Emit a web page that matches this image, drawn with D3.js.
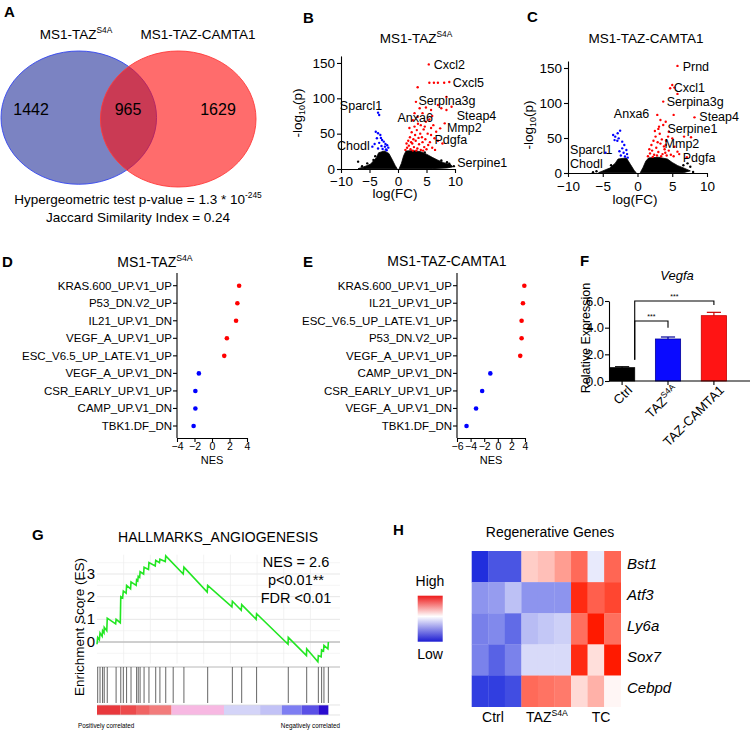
<!DOCTYPE html>
<html>
<head>
<meta charset="utf-8">
<script src="https://cdn.jsdelivr.net/npm/d3@7"></script>
<style>
body { margin:0; background:#fff; }
</style>
</head>
<body>
<script>
// ---------------- data ----------------
// A: venn
const vennNames = ["MS1-TAZ", "MS1-TAZ-CAMTA1"];
const vennCounts = [1442, 965, 1629];

// B: volcano MS1-TAZ S4A  ([logFC, -log10 p])
const volcB_red = [[5.4,148],[5.5,122],[6.3,122],[7.0,122],[8.1,122],[9.0,123],[3.45,115.6],[3.15,95],[8.5,102],[7.6,86],
  [4.9,87],[5.8,83.5],[7.0,90.6],[8.5,83.5],[9.4,88],[8.2,64.6],[7.4,57.5],[6.7,52.8],[6.4,43.4],[5.8,48],
  [2.6,69],[3.45,74],[4.3,79],[4.9,67],[4.0,62],[1.3,27],[1.6,30],[1.9,33],[2.2,28],[2.5,36],[2.8,31],[3.1,40],
  [3.4,29],[3.7,35],[4.0,27],[4.3,38],[4.6,31],[5.0,28],[5.3,34],[1.8,40],[2.1,45],[2.4,52],[2.7,42],[3.0,48],
  [3.3,55],[3.6,44],[3.9,50],[4.2,45],[4.5,56],[4.8,42],[5.2,50],[2.0,58],[2.9,60],[3.5,64],[4.7,60],[5.6,38],
  [6.0,30],[6.5,27],[1.5,36],[2.3,38],[3.2,26],[4.4,26],[2.6,26],[5.8,58],[6.2,62],[7.0,40],[7.8,36],[5.5,70],
  [6.0,75],[3.8,86],[2.9,79]];
const volcB_blue = [[-3.5,79.7],[-3.3,76.4],[-3.9,52.8],[-3.5,50.5],[-3.1,48],[-3.7,43.4],[-2.8,41],[-2.5,38.7],
  [-3.3,37],[-2.2,35.4],[-1.9,33.5],[-2.9,32.5],[-2.3,31.6],[-1.7,30.2],[-3.5,29],[-2.7,28.3],[-2.1,27.8],
  [-4.5,31.6],[-4.1,35.4],[-2.0,26.5],[-3.0,44]];
// outline of the dense black (non significant) cloud
const volcB_blackL = [[-7.0,0.5],[-6.0,3],[-4.8,7],[-3.8,16],[-3.4,23],[-2.4,25.5],[-1.6,22],[-1.0,13],[-0.5,5],[-0.15,0.5]];
const volcB_blackR = [[0.2,0.5],[0.6,8],[1.0,19],[1.4,25.5],[2.6,26],[4.0,24.5],[5.0,21],[6.0,16.5],[7.0,12.5],[8.0,9],[9.3,6],[9.6,3],[8.6,1.5],[6.0,0.5]];
const volcB_blackDots = [[-7.0,10.4],[-5.4,8],[-4.3,12.7],[-6.3,4],[-5.8,2],[9.8,4],[9.0,7.5],[7.6,12],[8.6,9.5],[-4.0,18],[4.7,23.5]];
const volcB_labels = [["Cxcl2",6.25,141.4],["Cxcl5",9.6,115.6],["Sparcl1",-10.2,83.5],["Serpina3g",3.6,90.5],["Anxa6",-0.1,66.9],
  ["Steap4",10.3,69.5],["Mmp2",8.6,52.3],["Pdgfa",6.4,35.4],["Chodl",-10.7,26.9],["Serpine1",10.4,3.3]];

// C: volcano MS1-TAZ-CAMTA1
const volcC_red = [[5.75,153],[5.0,125.7],[4.7,121],[5.3,122],[5.75,113],[3.7,102],[5.2,83],[8.2,79.5],[2.85,83],[3.3,75.7],
  [4.06,73.3],[3.1,66.2],[3.7,68.6],[6.7,52],[7.7,51],[4.5,59],[5.0,49.5],[4.06,40],[5.3,37.6],[5.75,30.5],[7.1,22.4],
  [1.5,24],[1.8,28],[2.1,32],[2.4,26],[2.7,36],[3.0,30],[3.3,42],[3.6,27],[3.9,34],[4.2,25],[1.7,34],[2.0,40],
  [2.3,46],[2.6,52],[2.9,44],[3.2,56],[3.5,48],[3.8,38],[4.1,46],[2.2,23],[2.8,25],[3.4,24],[4.0,29],[4.5,32],
  [4.8,26],[5.2,24],[6.0,27],[2.5,60],[3.0,63],[4.4,52]];
const volcC_blue = [[-2.5,60.5],[-2.85,56.7],[-3.2,51.9],[-3.5,54.3],[-2.7,49.5],[-2.2,44.8],[-1.9,40],[-2.2,35.2],
  [-1.6,32.9],[-2.0,29],[-1.5,27],[-4.6,29],[-2.9,46],[-3.3,47],[-1.8,23.5],[-2.4,25],[-2.6,31],[-1.4,22]];
const volcC_blackL = [[-5.6,0.5],[-5.0,3],[-4.0,7],[-3.2,14],[-2.8,20],[-1.6,21.5],[-1.0,12],[-0.5,4],[-0.2,0.5]];
const volcC_blackR = [[0.4,0.5],[0.8,8],[1.2,17],[1.6,21.5],[3.0,22.5],[4.3,20],[5.0,15],[5.8,10.5],[6.8,6.5],[7.6,3],[6.6,0.5]];
const volcC_blackDots = [[7.2,13.8],[6.6,11],[-5.9,2.5],[-6.4,1],[-3.8,11],[8.0,1.5],[7.6,9]];
const volcC_labels = [["Prnd",6.5,146],["Cxcl1",5.2,116],["Serpina3g",4.2,95.7],["Anxa6",-3.4,78],["Steap4",8.9,74.8],
  ["Serpine1",4.3,56.7],["Mmp2",3.9,35.2],["Pdgfa",6.5,16.2],["Sparcl1",-9.7,27],["Chodl",-9.7,6.7]];

// D / E: GSEA NES
const gsD_names = ["KRAS.600_UP.V1_UP","P53_DN.V2_UP","IL21_UP.V1_DN","VEGF_A_UP.V1_UP","ESC_V6.5_UP_LATE.V1_UP",
  "VEGF_A_UP.V1_DN","CSR_EARLY_UP.V1_UP","CAMP_UP.V1_DN","TBK1.DF_DN"];
const gsD_nes = [3.1, 2.9, 2.75, 1.7, 1.4, -1.5, -1.9, -1.9, -2.1];
const gsE_names = ["KRAS.600_UP.V1_UP","IL21_UP.V1_UP","ESC_V6.5_UP_LATE.V1_UP","P53_DN.V2_UP","VEGF_A_UP.V1_UP",
  "CAMP_UP.V1_DN","CSR_EARLY_UP.V1_UP","VEGF_A_UP.V1_DN","TBK1.DF_DN"];
const gsE_nes = [3.9, 3.7, 3.5, 3.5, 3.3, -1.1, -2.3, -3.2, -4.6];

// F: Vegfa qPCR
const fCats = ["Ctrl", "TAZ", "TAZ-CAMTA1"];
const fMeans = [1.0, 3.15, 4.9];
const fErr = [0.07, 0.15, 0.25];

// G: GSEA running enrichment score
const esRank  = [0,0.3,1.0,1.3,2.2,2.4,3.0,3.1,4.2,4.4,8.0,8.2,10.0,10.2,11.0,11.3,12.5,12.7,14.4,14.6,16.8,17.0,17.5,17.7,18.3,18.5,
  20.0,20.2,22.1,22.3,25.0,25.2,26.8,27.0,29.3,29.5,37.0,37.3,47.3,47.5,57.9,58.1,61.9,62.1,68.3,68.5,82.0,82.1,89.9,90.0,
  94.8,95.0,96.2,96.4,97.2,97.4,99.1,99.3];
const esScore = [-0.01,0.02,0.01,0.04,0.025,0.05,0.04,0.065,0.05,0.105,0.08,0.10,0.085,0.20,0.195,0.225,0.215,0.25,0.235,0.265,
  0.25,0.275,0.27,0.29,0.285,0.31,0.30,0.33,0.32,0.35,0.335,0.36,0.35,0.365,0.355,0.38,0.30,0.33,0.22,0.25,
  0.155,0.18,0.14,0.165,0.10,0.125,-0.01,0.02,-0.06,-0.03,-0.087,-0.06,-0.065,-0.035,-0.04,-0.015,-0.03,0.0];
const esHits = [0.3,1.3,2.4,3.1,4.4,8.2,10.2,11.3,12.7,14.6,17.0,17.7,18.5,20.2,22.3,25.2,27.0,29.5,32.7,37.3,47.5,58.1,62.1,68.5,
  82.1,90.0,95.0,96.4,97.4,99.3];
const esTicks = [0, 0.1, 0.2, 0.3];
const esTickLabels = ["0", ".1", ".2", ".3"];
const rankBarStart = [0, 10, 17.1, 22.7, 32, 54.5, 70, 79.3, 87.8, 95];
const rankBarEnd   = [10, 17.1, 22.7, 32, 54.5, 70, 79.3, 87.8, 95, 99.3];
const rankBarColor = ["#e8383c","#ec4a4c","#f06464","#f27c7c","#f7b8e2","#d4d4f8","#c2c2f6","#7e7ef2","#5a50e6","#2a0cd0"];

// H: heatmap
const hGenes = ["Bst1", "Atf3", "Ly6a", "Sox7", "Cebpd"];
const hSamples = ["C1","C2","C3","T1","T2","T3","TC1","TC2","TC3"];
const hValues = [
  [-0.97, -0.79, -0.79, 0.22, 0.28, 0.43, 0.65, -0.1, 0.67],
  [-0.5, -0.46, -0.29, -0.5, -0.5, -0.5, 0.93, 0.70, 0.81],
  [-0.59, -0.55, -0.69, -0.31, -0.26, -0.22, 0.63, 1.0, 0.63],
  [-0.58, -0.73, -0.58, -0.17, -0.17, -0.17, 0.93, 0.14, 1.0],
  [-0.9, -0.9, -0.83, 0.65, 0.61, 0.58, 0.16, 0.34, 0.04]
];

// ---------------- helpers ----------------
const svg = d3.select("body").append("svg")
  .attr("width", 751).attr("height", 730)
  .attr("font-family", "'Liberation Sans', Arial, Helvetica, sans-serif");

function txt(g, x, y, s, size, anchor) {
  return g.append("text").attr("x", x).attr("y", y).attr("font-size", size)
    .attr("text-anchor", anchor || "start").attr("fill", "#000").text(s);
}
function supText(g, x, y, base, sup, size, anchor) {
  let t = g.append("text").attr("x", x).attr("y", y).attr("font-size", size)
    .attr("text-anchor", anchor || "start").attr("fill", "#000");
  t.append("tspan").text(base);
  t.append("tspan").attr("dy", -size * 0.42).attr("font-size", size * 0.62).text(sup);
  return t;
}
function styleAxis(a, size) {
  a.attr("font-family", null).attr("font-size", size);
  a.selectAll("line,path").attr("stroke", "#000").attr("stroke-width", 1.1);
  a.selectAll("text").attr("fill", "#000");
}

// panel letters
[["A",4,17],["B",303,23],["C",527,22],["D",2,267],["E",303,267],["F",580,266],["G",32,540],["H",393,535]].forEach(function(p) {
  txt(svg, p[1], p[2], p[0], 15, "start").attr("font-weight", "bold");
});

// ---------------- A: venn ----------------
const ga = svg.append("g");
const vx = d3.scaleLinear().domain([0, 1]).range([1, 256]);
const vy = d3.scaleLinear().domain([0, 1]).range([51, 187]);
const vennCircles = [
  {cx: 0.305, cy: 0.49, rx: 0.305, ry: 0.49, fill: "#7b83c2", op: 1, stroke: "#3346f0"},
  {cx: 0.695, cy: 0.5, rx: 0.305, ry: 0.5, fill: "#ff0a0a", op: 0.6, stroke: "#ff3a3a"}
];
ga.selectAll("ellipse").data(vennCircles).enter().append("ellipse")
  .attr("cx", d => vx(d.cx)).attr("cy", d => vy(d.cy))
  .attr("rx", d => vx(d.rx) - vx(0)).attr("ry", d => vy(d.ry) - vy(0))
  .attr("fill", d => d.fill).attr("fill-opacity", d => d.op)
  .attr("stroke", d => d.stroke).attr("stroke-width", 0.9);
const vennNumX = [0.118, 0.498, 0.851];
vennCounts.forEach(function(c, i) { txt(ga, vx(vennNumX[i]), vy(0.47), c, 16, "middle"); });
supText(ga, 76, 39, vennNames[0], "S4A", 13.5, "middle");
txt(ga, 198, 39, vennNames[1], 13.5, "middle");
supText(ga, 138, 204, "Hypergeometric test p-value = 1.3 * 10", "-245", 13.5, "middle");
txt(ga, 138, 221.5, "Jaccard Similarity Index = 0.24", 13.5, "middle");

// ---------------- B / C: volcano ----------------
function volcano(o) {
  const g = svg.append("g");
  const x = d3.scaleLinear().domain([-10, 10]).range(o.xr);
  const y = d3.scaleLinear().domain([0, 160]).range(o.yr);
  const line = d3.line().x(d => x(d[0])).y(d => y(d[1])).curve(d3.curveLinearClosed);
  [o.blackL, o.blackR].forEach(function(poly) {
    g.append("path").attr("d", line(poly)).attr("fill", "#000").attr("stroke", "#000").attr("stroke-width", 0.8);
  });
  g.selectAll(null).data(o.blackDots).enter().append("circle")
    .attr("cx", d => x(d[0])).attr("cy", d => y(d[1])).attr("r", 1.2).attr("fill", "#000");
  g.selectAll(null).data(o.red).enter().append("circle")
    .attr("cx", d => x(d[0])).attr("cy", d => y(d[1])).attr("r", 1.2).attr("fill", "#ff0000");
  g.selectAll(null).data(o.blue).enter().append("circle")
    .attr("cx", d => x(d[0])).attr("cy", d => y(d[1])).attr("r", 1.2).attr("fill", "#0000ff");

  const ax = g.append("g").attr("transform", "translate(0," + y(0) + ")")
    .call(d3.axisBottom(x).tickValues([-10, -5, 0, 5, 10]).tickSize(4).tickSizeOuter(0).tickPadding(o.xpad));
  styleAxis(ax, 13.5);
  const ay = g.append("g").attr("transform", "translate(" + x(-10) + ",0)")
    .call(d3.axisLeft(y).tickValues([0, 50, 100, 150]).tickSize(4).tickSizeOuter(0).tickPadding(2));
  styleAxis(ay, 13.5);

  o.labels.forEach(function(l) { txt(g, x(l[1]), y(l[2]), l[0], 12.5, "start"); });

  txt(g, o.xlab[0], o.xlab[1], "log(FC)", 13.5, "middle");
  let yl = g.append("text").attr("transform", "translate(" + o.ylab[0] + "," + o.ylab[1] + ") rotate(-90)")
    .attr("text-anchor", "middle").attr("font-size", 13.5).attr("fill", "#000");
  yl.append("tspan").text("-log");
  yl.append("tspan").attr("dy", 3).attr("font-size", 9).text("10");
  yl.append("tspan").attr("dy", -3).text("(p)");
  return g;
}
const gb = volcano({xr: [341, 455], yr: [169, 55.9], xpad: 3, red: volcB_red, blue: volcB_blue,
  blackL: volcB_blackL, blackR: volcB_blackR, blackDots: volcB_blackDots, labels: volcB_labels,
  xlab: [395, 198], ylab: [302, 113]});
supText(gb, 416, 43, "MS1-TAZ", "S4A", 13.5, "middle");
const gc = volcano({xr: [568, 707], yr: [173, 61], xpad: 4, red: volcC_red, blue: volcC_blue,
  blackL: volcC_blackL, blackR: volcC_blackR, blackDots: volcC_blackDots, labels: volcC_labels,
  xlab: [635, 204], ylab: [533, 125]});
txt(gc, 646, 43, "MS1-TAZ-CAMTA1", 13.5, "middle");

// ---------------- D / E: NES dot plots ----------------
function nesPlot(o) {
  const g = svg.append("g");
  const x = d3.scaleLinear().domain(o.xdom).range(o.xr);
  const y = d3.scalePoint().domain(o.names).range([285.7, 426]);
  g.append("line").attr("x1", o.xr[0]).attr("x2", o.xr[0]).attr("y1", 273).attr("y2", 438)
    .attr("stroke", "#000").attr("stroke-width", 1.1);
  o.names.forEach(function(n) {
    g.append("line").attr("x1", o.xr[0] - 4).attr("x2", o.xr[0]).attr("y1", y(n)).attr("y2", y(n))
      .attr("stroke", "#000").attr("stroke-width", 1.1);
    txt(g, o.xr[0] - 5, y(n) + 4, n, 11.5, "end");
  });
  const ax = g.append("g").attr("transform", "translate(0,438)")
    .call(d3.axisBottom(x).tickValues(o.ticks).tickSize(4).tickSizeOuter(0).tickPadding(1));
  styleAxis(ax, 10.5);
  g.selectAll(null).data(o.nes).enter().append("circle")
    .attr("cx", d => x(d)).attr("cy", (d, i) => y(o.names[i])).attr("r", 2.3)
    .attr("fill", d => d > 0 ? "#ff0000" : "#0000ff");
  txt(g, (o.xr[0] + o.xr[1]) / 2, 464, "NES", 11, "middle");
  return g;
}
const gd = nesPlot({xdom: [-4, 4], xr: [177, 247], ticks: [-4, -2, 0, 2, 4], names: gsD_names, nes: gsD_nes});
supText(gd, 155, 267, "MS1-TAZ", "S4A", 14, "middle");
const ge = nesPlot({xdom: [-6, 4], xr: [457, 525], ticks: [-6, -4, -2, 0, 2, 4], names: gsE_names, nes: gsE_nes});
txt(ge, 447, 266, "MS1-TAZ-CAMTA1", 14, "middle");

// ---------------- F: bar chart ----------------
const gf = svg.append("g");
const yF = d3.scaleLinear().domain([0, 6]).range([381, 301]);
const xF = d3.scaleBand().domain(fCats).range([598, 738]).paddingInner(0.45).paddingOuter(0.25);
const fFill = ["#000000", "#0a0aff", "#ff1414"];
const fStroke = ["#000000", "#00009a", "#c80000"];
const fAxisX = 609;
fCats.forEach(function(c, i) {
  const cx = xF(c) + xF.bandwidth() / 2;
  // error bar
  gf.append("line").attr("x1", cx).attr("x2", cx).attr("y1", yF(fMeans[i])).attr("y2", yF(fMeans[i] + fErr[i]))
    .attr("stroke", fStroke[i]).attr("stroke-width", 1.2);
  gf.append("line").attr("x1", cx - xF.bandwidth() * 0.28).attr("x2", cx + xF.bandwidth() * 0.28)
    .attr("y1", yF(fMeans[i] + fErr[i])).attr("y2", yF(fMeans[i] + fErr[i]))
    .attr("stroke", fStroke[i]).attr("stroke-width", 1.2);
});
gf.selectAll("rect").data(fMeans).enter().append("rect")
  .attr("x", (d, i) => xF(fCats[i])).attr("width", xF.bandwidth())
  .attr("y", d => yF(d)).attr("height", d => yF(0) - yF(d))
  .attr("fill", (d, i) => fFill[i]).attr("stroke", (d, i) => fStroke[i]).attr("stroke-width", 0.8);
const afy = gf.append("g").attr("transform", "translate(" + fAxisX + ",0)")
  .call(d3.axisLeft(yF).tickValues([0, 2, 4, 6]).tickSize(4).tickSizeOuter(0).tickPadding(1));
styleAxis(afy, 13);
gf.append("line").attr("x1", fAxisX).attr("x2", 750).attr("y1", yF(0)).attr("y2", yF(0)).attr("stroke", "#000").attr("stroke-width", 1.1);
fCats.forEach(function(c, i) {
  const cx = xF(c) + xF.bandwidth() / 2;
  gf.append("line").attr("x1", cx).attr("x2", cx).attr("y1", yF(0)).attr("y2", yF(0) + 4).attr("stroke", "#000").attr("stroke-width", 1.1);
  const t = gf.append("text").attr("transform", "translate(" + (cx + 11) + ",391) rotate(-45)")
    .attr("text-anchor", "end").attr("font-size", 13).attr("fill", "#000");
  if (c == "TAZ") {
    t.append("tspan").text("TAZ");
    t.append("tspan").attr("dy", -5).attr("font-size", 8.5).text("S4A");
  } else {
    t.text(c);
  }
});
// significance brackets
const bx0 = xF("Ctrl") + xF.bandwidth();
const cTaz = xF("TAZ") + xF.bandwidth() / 2, cTc = xF("TAZ-CAMTA1") + xF.bandwidth() / 2;
function bracket(x0, x1, v, vl, vr) {
  gf.append("path").attr("d", "M" + x0 + "," + yF(vl) + "V" + yF(v) + "H" + x1 + "V" + yF(vr))
    .attr("fill", "none").attr("stroke", "#000").attr("stroke-width", 1.1);
  txt(gf, (x0 + x1) / 2, yF(v) - 2, "***", 7, "middle");
}
bracket(bx0, cTc, 6.0, 1.6, 5.7);
bracket(bx0, cTaz, 4.5, 1.6, 4.0);
txt(gf, 677, 280, "Vegfa", 13, "middle").attr("font-style", "italic");
txt(gf, 0, 0, "Relative Expression", 12.5, "middle").attr("transform", "translate(590,338) rotate(-90)");

// ---------------- G: enrichment plot ----------------
const gg = svg.append("g");
const xG = d3.scaleLinear().domain([0, 100]).range([97, 330]);
const yG = d3.scaleLinear().domain([0, 0.3]).range([642, 574]);
const gL = xG(0), gR = xG(104.3), gT = yG(0.385), gB = yG(-0.095);
// grid
d3.range(-0.05, 0.4, 0.05).forEach(function(v) {
  const major = Math.abs(Math.round(v * 10) - v * 10) < 1e-6;
  gg.append("line").attr("x1", gL).attr("x2", gR).attr("y1", yG(v)).attr("y2", yG(v))
    .attr("stroke", major ? "#e4e4e4" : "#f0f0f0").attr("stroke-width", major ? 0.9 : 0.6);
});
d3.range(1, 9).forEach(function(i) {
  const xx = xG(i * 11.45);
  gg.append("line").attr("x1", xx).attr("x2", xx).attr("y1", gT).attr("y2", gB).attr("stroke", "#ececec").attr("stroke-width", 0.7);
});
gg.append("line").attr("x1", gL).attr("x2", gR).attr("y1", yG(0)).attr("y2", yG(0)).attr("stroke", "#aaaaaa").attr("stroke-width", 1);
// ES curve
const esLine = d3.line().x((d, i) => xG(esRank[i])).y(d => yG(d));
gg.append("path").attr("d", esLine(esScore)).attr("fill", "none").attr("stroke", "#22e622").attr("stroke-width", 1.6);
// hits
gg.append("line").attr("x1", gL).attr("x2", gR).attr("y1", 667).attr("y2", 667).attr("stroke", "#b8b8b8").attr("stroke-width", 1);
gg.selectAll(null).data(esHits).enter().append("line")
  .attr("x1", d => xG(d)).attr("x2", d => xG(d)).attr("y1", 667).attr("y2", 703)
  .attr("stroke", "#555").attr("stroke-width", 0.9);
// ranked list bar
gg.selectAll(null).data(rankBarColor).enter().append("rect")
  .attr("x", (d, i) => xG(rankBarStart[i])).attr("width", (d, i) => xG(rankBarEnd[i]) - xG(rankBarStart[i]))
  .attr("y", 705).attr("height", 10).attr("fill", d => d);
gg.append("line").attr("x1", gL).attr("x2", gR).attr("y1", 705).attr("y2", 705).attr("stroke", "#d8d8d8").attr("stroke-width", 0.7);
gg.append("line").attr("x1", gL).attr("x2", gR).attr("y1", 715).attr("y2", 715).attr("stroke", "#d8d8d8").attr("stroke-width", 0.7);
esTicks.forEach(function(v, i) {
  txt(gg, 95, yG(v) + 5, esTickLabels[i], 15, "end");
});
txt(gg, 218, 542, "HALLMARKS_ANGIOGENESIS", 14, "middle");
txt(gg, 296, 566.7, "NES = 2.6", 14.5, "middle");
txt(gg, 296, 585, "p<0.01**", 14.5, "middle");
txt(gg, 296, 603.3, "FDR <0.01", 14.5, "middle");
txt(gg, 0, 0, "Enrichment Score (ES)", 13.5, "middle").attr("transform", "translate(84,627) rotate(-90)");
txt(gg, 78, 728, "Positively correlated", 6.3, "start");
txt(gg, 340, 728, "Negatively correlated", 6.3, "end");

// ---------------- H: heatmap ----------------
const gh = svg.append("g");
const xH = d3.scaleBand().domain(hSamples).range([471.7, 620.7]);
const yH = d3.scaleBand().domain(hGenes).range([551, 706.7]);
const hColor = d3.scaleLinear().domain([-1, 0, 1]).range(["#1a28dc", "#ffffff", "#ff1a00"]);
hValues.forEach(function(row, r) {
  gh.selectAll(null).data(row).enter().append("rect")
    .attr("x", (d, c) => xH(hSamples[c])).attr("y", yH(hGenes[r]))
    .attr("width", xH.bandwidth() + 0.3).attr("height", yH.bandwidth() + 0.3)
    .attr("fill", d => hColor(d));
  txt(gh, 627, yH(hGenes[r]) + yH.bandwidth() / 2 + 2, hGenes[r], 15, "start").attr("font-style", "italic");
});
txt(gh, 550, 537, "Regenerative Genes", 14, "middle");
txt(gh, 493, 721.5, "Ctrl", 14, "middle");
supText(gh, 547, 721.5, "TAZ", "S4A", 14, "middle");
txt(gh, 601, 721.5, "TC", 14, "middle");
// legend
const defs = svg.append("defs");
const grad = defs.append("linearGradient").attr("id", "hgrad").attr("x1", 0).attr("x2", 0).attr("y1", 0).attr("y2", 1);
[[0, "#ee1a1a"], [0.45, "#ffffff"], [1, "#1c1cd2"]].forEach(function(s) {
  grad.append("stop").attr("offset", s[0]).attr("stop-color", s[1]);
});
gh.append("rect").attr("x", 417.7).attr("y", 595.7).attr("width", 25).attr("height", 46).attr("fill", "url(#hgrad)");
txt(gh, 430, 586, "High", 14, "middle");
txt(gh, 430, 659, "Low", 14, "middle");
</script>
</body>
</html>
